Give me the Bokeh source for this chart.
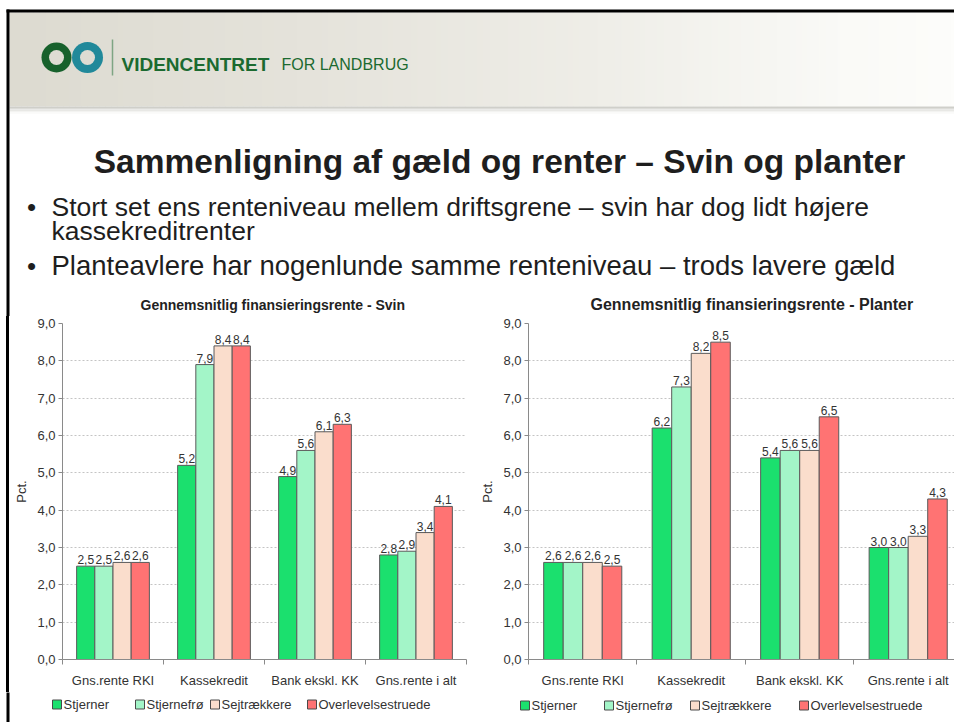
from bokeh.plotting import figure
from bokeh.models import Range1d, FixedTicker, ColumnDataSource, Div
from bokeh.layouts import column, row
from bokeh.embed import file_html
from bokeh.resources import INLINE
from bokeh.core.properties import value
import numpy as np

FONT = "Liberation Sans"

# ---------------- data ----------------
categories = ["Gns.rente RKI", "Kassekredit", "Bank ekskl. KK", "Gns.rente i alt"]
series = ["Stjerner", "Stjernefrø", "Sejtrækkere", "Overlevelsestruede"]
colors = ["#1BE06E", "#A3F5C8", "#FADDCC", "#FF7373"]

svin_stjerner = [2.5, 5.2, 4.9, 2.8]
svin_stjernefro = [2.5, 7.9, 5.6, 2.9]
svin_sejtraekkere = [2.6, 8.4, 6.1, 3.4]
svin_overlevelse = [2.6, 8.4, 6.3, 4.1]

planter_stjerner = [2.6, 6.2, 5.4, 3.0]
planter_stjernefro = [2.6, 7.3, 5.6, 3.0]
planter_sejtraekkere = [2.6, 8.2, 5.6, 3.3]
planter_overlevelse = [2.5, 8.5, 6.5, 4.3]

y_ticks = [0, 1, 2, 3, 4, 5, 6, 7, 8, 9]

title_main = "Sammenligning af gæld og renter – Svin og planter"
bullet_lines = [
    "Stort set ens renteniveau mellem driftsgrene – svin har dog lidt højere",
    "kassekreditrenter",
    "Planteavlere har nogenlunde samme renteniveau – trods lavere gæld",
]
chart_title_svin = "Gennemsnitlig finansieringsrente - Svin"
chart_title_planter = "Gennemsnitlig finansieringsrente - Planter"

# ---------------- layout constants ----------------
PAGE_W = 954
HEAD_H = 316
LEG_TOP = 692
ROW_H = LEG_TOP - HEAD_H
LEG_H = 722 - LEG_TOP


def fmt(v):
    return f"{v:.1f}".replace(".", ",")


def plain(width, height, xr, yr):
    p = figure(width=width, height=height, x_range=xr, y_range=yr, output_backend="svg",
               toolbar_location=None, min_border=0, x_axis_location=None, y_axis_location=None)
    p.grid.visible = False
    p.outline_line_color = None
    p.background_fill_color = "white"
    p.border_fill_color = "white"
    return p


# ---------------- header figure (page pixel coordinates) ----------------
h = plain(PAGE_W, HEAD_H, Range1d(0, PAGE_W), Range1d(HEAD_H, 0))

# beige gradient band
xs = np.arange(9, 954, 6)
stops_x = [9, 300, 600, 840, 954]
stops_c = [(221, 219, 209), (229, 227, 219), (239, 238, 232), (250, 250, 247), (253, 253, 251)]
cols = []
for x in xs:
    c = [int(np.interp(x + 3, stops_x, [s[k] for s in stops_c])) for k in range(3)]
    cols.append("#%02x%02x%02x" % tuple(c))
h.quad(left=xs, right=xs + 6.5, top=12, bottom=106, fill_color=cols, line_color=None)
# bottom shadow of band
sh_y = [106, 107.5, 109, 110.5, 112]
sh_c = ["#cfcfca", "#dcdcd8", "#e8e8e5", "#f3f3f1", "#fbfbfa"]
h.quad(left=9, right=954, top=sh_y, bottom=[y + 1.5 for y in sh_y], fill_color=sh_c, line_color=None)

# slide borders
h.quad(left=6, right=954, top=9, bottom=12, fill_color="black", line_color=None)
h.quad(left=6, right=9, top=9, bottom=HEAD_H + 1, fill_color="black", line_color=None)

# logo
LY = 57
h.scatter(x=[56], y=[LY], size=30, marker="circle", fill_color="#17612c", line_color=None)
h.scatter(x=[87], y=[LY], size=31, marker="circle", fill_color="#21899a", line_color=None)
h.scatter(x=[56, 87], y=[LY, LY], size=15, marker="circle", fill_color="#dedcd3", line_color=None)
h.segment(x0=[112], y0=[LY - 18], x1=[112], y1=[LY + 18], line_color="#7ea583", line_width=1.5)
h.text(x=[121], y=[LY + 7], text=["VIDENCENTRET"], text_font=value(FONT), text_font_size="19px",
       text_font_style="bold", text_color="#1b6a30", text_baseline="alphabetic", text_align="left")
h.text(x=[281], y=[LY + 7], text=["FOR LANDBRUG"], text_font=value(FONT), text_font_size="16px",
       text_color="#1b6a30", text_baseline="alphabetic", text_align="left")

# title
h.text(x=[499], y=[161], text=[title_main], text_font=value(FONT), text_font_size="33.5px",
       text_font_style="bold", text_color="#1e1e1e", text_align="center", text_baseline="alphabetic")

# bullets
h.text(x=[31, 31], y=[206, 265], text=["•", "•"], text_font=value(FONT), text_font_size="26px",
       text_color="#1e1e1e", text_align="center", text_baseline="alphabetic")
h.text(x=[51, 51], y=[206, 230], text=bullet_lines[:2], text_font=value(FONT),
       text_font_size="26.5px", text_color="#1e1e1e", text_align="left", text_baseline="alphabetic")
h.text(x=[51], y=[265], text=bullet_lines[2:], text_font=value(FONT),
       text_font_size="27.5px", text_color="#1e1e1e", text_align="left", text_baseline="alphabetic")

# chart titles
h.text(x=[140], y=[304], text=[chart_title_svin], text_font=value(FONT),
       text_font_size="14px", text_font_style="bold", text_color="#222222", text_align="left",
       text_baseline="alphabetic")
h.text(x=[590], y=[304], text=[chart_title_planter], text_font=value(FONT),
       text_font_size="16px", text_font_style="bold", text_color="#222222", text_align="left",
       text_baseline="alphabetic")


# ---------------- chart figures ----------------
def chart(vals, width, ml, mr, mt, mb, xmax):
    p = figure(width=width, height=ROW_H, x_range=Range1d(0, xmax), y_range=Range1d(0, 9),
               output_backend="svg", toolbar_location=None,
               min_border_left=ml, min_border_right=mr, min_border_top=mt, min_border_bottom=mb)
    p.outline_line_color = None
    p.background_fill_color = "white"
    p.border_fill_color = "white"

    offsets = [-0.27, -0.09, 0.09, 0.27]
    for i, s in enumerate(series):
        xs_ = [j + 0.5 + offsets[i] for j in range(len(categories))]
        src = ColumnDataSource(dict(x=xs_, top=vals[i], lab=[fmt(v) for v in vals[i]]))
        p.vbar(x="x", top="top", width=0.18, source=src, fill_color=colors[i],
               line_color="#5a5a5a", line_width=1)
        p.text(x="x", y="top", text="lab", source=src, text_align="center", text_baseline="bottom",
               y_offset=-2, text_font=value(FONT), text_font_size="12px", text_color="#333333")

    # y axis
    p.yaxis.ticker = FixedTicker(ticks=y_ticks)
    p.yaxis.major_label_overrides = {t: f"{t},0" for t in y_ticks}
    p.yaxis.minor_tick_line_color = None
    p.yaxis.major_tick_in = 0
    p.yaxis.major_tick_out = 4
    p.yaxis.major_tick_line_color = "#8a8a8a"
    p.yaxis.axis_line_color = "#8a8a8a"
    p.yaxis.major_label_standoff = 3
    p.yaxis.major_label_text_font = FONT
    p.yaxis.major_label_text_font_size = "13px"
    p.yaxis.major_label_text_color = "#333333"
    p.yaxis.axis_label = "Pct."
    p.yaxis.axis_label_text_font = FONT
    p.yaxis.axis_label_text_font_size = "13px"
    p.yaxis.axis_label_text_font_style = "normal"
    p.yaxis.axis_label_text_color = "#333333"
    p.yaxis.axis_label_standoff = 5

    # x axis
    centers = [j + 0.5 for j in range(len(categories))]
    p.xaxis.ticker = FixedTicker(ticks=centers, minor_ticks=list(range(len(categories) + 1)))
    p.xaxis.major_label_overrides = {c: lab for c, lab in zip(centers, categories)}
    p.xaxis.major_tick_in = 0
    p.xaxis.major_tick_out = 0
    p.xaxis.minor_tick_in = 0
    p.xaxis.minor_tick_out = 5
    p.xaxis.minor_tick_line_color = "#8a8a8a"
    p.xaxis.axis_line_color = "#8a8a8a"
    p.xaxis.major_label_standoff = 8
    p.xaxis.major_label_text_font = FONT
    p.xaxis.major_label_text_font_size = "13px"
    p.xaxis.major_label_text_color = "#333333"

    # grid
    p.xgrid.visible = False
    p.ygrid.ticker = FixedTicker(ticks=y_ticks)
    p.ygrid.grid_line_color = "#c4c4c4"
    p.ygrid.grid_line_dash = "2 2"
    p.ygrid.grid_line_width = 1
    return p


svin_vals = [svin_stjerner, svin_stjernefro, svin_sejtraekkere, svin_overlevelse]
planter_vals = [planter_stjerner, planter_stjernefro, planter_sejtraekkere, planter_overlevelse]

# left chart: x 9..477, frame 62..466, y frame 322..664
left = chart(svin_vals, 468, 53, 11, 322 - HEAD_H, LEG_TOP - 664, 4.0)
# right chart: x 477..954, frame 524..(runs off the slide), y frame 323..659
right = chart(planter_vals, 477, 47, 0, 323 - HEAD_H, LEG_TOP - 659, 430 / 109.5)

# slide's left border beside the charts (plain blocks)
gap = Div(text="", width=6, height=ROW_H, margin=0)
edge = Div(text="", width=3, height=ROW_H, margin=0, styles={"background-color": "black"})

# ---------------- legends (one strip below both charts, page pixel coordinates) ----------------
lg = plain(PAGE_W, LEG_H, Range1d(0, PAGE_W), Range1d(722, LEG_TOP))
lg.quad(left=6, right=9, top=LEG_TOP - 1, bottom=723, fill_color="black", line_color=None)
legend_slots = [([52, 135, 210, 307], 704), ([520, 604, 690, 799], 705)]
for sx_list, cy in legend_slots:
    lg.rect(x=[x + 4.5 for x in sx_list], y=[cy] * 4, width=9, height=9, fill_color=colors,
            line_color="#4a4a4a", line_width=1)
    lg.text(x=[x + 11 for x in sx_list], y=[cy] * 4, text=series, text_font=value(FONT),
            text_font_size="13px", text_color="#333333", text_align="left", text_baseline="middle")

layout = column(h, row(gap, edge, left, right, spacing=0), lg, spacing=0)

open("out.html", "w").write(file_html(layout, INLINE))
